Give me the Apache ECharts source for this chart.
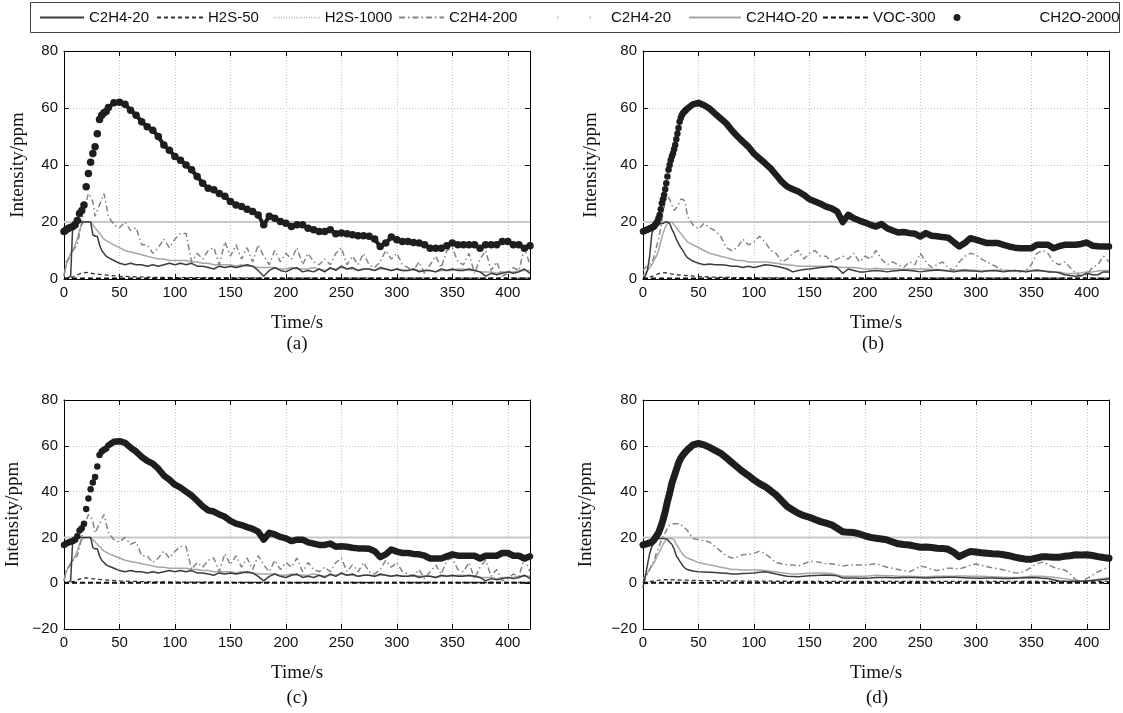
<!DOCTYPE html>
<html><head><meta charset="utf-8">
<script src="https://cdn.jsdelivr.net/npm/echarts@6/dist/echarts.min.js"></script>
<style>html,body{margin:0;padding:0;background:#fff}#c{width:1123px;height:713px}</style>
</head><body><div id="c"></div>
<script>
// ---------- time grids (s) ----------
const T_RISE2 = [0,2,4,6,8,10,12,14,16,18,20,22,24,26,28,30,32,34,36,38];
const T_RISE1 = [0,1,2,3,4,5,6,7,8,9,10,11,12,13,14,15,16,17,18,19,20,21,22,23,24,25,26,27,28,29,30,31,32,33,34,35,36,37,38,39];
const T_REST = [40,45,
  50,55,60,65,70,75,80,85,90,95,
  100,105,110,115,120,125,130,135,140,145,
  150,155,160,165,170,175,180,185,190,195,
  200,205,210,215,220,225,230,235,240,245,
  250,255,260,265,270,275,280,285,290,295,
  300,305,310,315,320,325,330,335,340,345,
  350,355,360,365,370,375,380,385,390,395,
  400,405,410,415,420];
const T_LINE = T_RISE2.concat(T_REST);
const T_H2S = [0,5,10,15,20,25,30,40,50,60,80,100,150,200,300,420];
const T_FLAT = [0,420];

// ---------- tick labels ----------
const X_TICKS = [0,50,100,150,200,250,300,350,400];

// ---------- flat series ----------
const H2S1000 = [20,20];
const VOC300 = [0.2,0.2];

// ---------- panel (a) / (c) ----------
const A_SOLID = [0,0,0.5,1,20,20,20,20,20,20, 20,20,20,15.5,15,15,12,10,9,8,
  7.5,6.5,
  5.5,5,5.5,5,5,4.5,5,4.5,5,5.5,
  5,5.5,5,5.5,4.5,4.5,4,3.5,4.5,4,
  4.5,4,4.5,5,4.5,3,1,3,4,3,
  2.5,3.5,4,2.5,3,2.5,3.5,2.5,4,3,
  4.5,3.5,4,3,3.5,3.5,3,4,3.5,3,
  3.5,3,3,3.5,2.5,3,3,2.5,3.5,3,
  3.5,3,3,3.5,3,2.5,1,2,1.5,2,
  2.5,2,2.5,3.5,2];
const A_LIGHT = [1,5,7,9,10,12,14,17,19,20, 20,20,20,19,18,17,16,15,14,13.5,
  13,12,
  11,10,9.5,9,8.5,8,7.5,7,7,6.5,
  6.5,6.5,6.5,6,6,5.5,5.5,5,5,5,
  5,4.5,5,4.5,4.5,4,4,4,4,3.5,
  3.5,4,3.5,3.5,3.5,4,3.5,3,3.5,3.5,
  4,3.5,3.5,3,3.5,3.5,3,3.5,3.5,3,
  3.5,3,3,3.5,3,3,3,2.5,3,3,
  3,3.5,3.5,3,3,2.5,2.5,2.5,2,2.5,
  2.5,2.5,3,3,3];
const A_DD = [1,6,7,8,10,11,12,16,20,25, 27,30,29,27,22,24,26,28,30,26,
  22,19,
  18,20,17,18,12,12,9,11,14,11,
  14,16,16,6,9,7,10,11,5,13,
  8,12,7,11,6,12,8,5,10,6,
  9,7,11,5,9,6,5,7,5,9,
  11,5,8,5,9,5,4,6,10,7,
  9,5,4,3,6,2,5,8,4,10,
  11,6,5,9,2,7,10,3,6,1,
  2,4,3,11,5];
const H2S_A = [0,0.3,1,2,2.3,2,1.7,1.3,1,0.8,0.6,0.5,0.4,0.3,0.3,0.3];
const CH_A_RISE = [16.7,17.3,17.8,18.1,18.4,19,20.5,23,24,26, 32.4,37,41,44,46.4,51,56,57.5,58.3,58.8];
const CH_A_REST = [60.2,61.8,
  62,61.3,59.2,57.5,55.2,53.4,52.2,50,47,45.2,
  43,41.7,40,38.3,36,33.6,31.8,31.3,30,29,
  27.2,26,25.4,24.5,23.7,22.5,19,22,21.3,20.2,
  19.6,18.4,19,19,17.8,17.3,16.7,16.7,17.3,15.9,
  16.1,15.9,15.5,15.2,15.2,15,14,11.4,12.6,14.7,
  13.8,13.2,13.2,12.8,12.6,12,10.8,10.8,10.8,11.7,
  12.6,12,12,12,12,10.8,12,12,12,13.2,
  13.2,12,12,10.8,11.7];

// ---------- panel (b) ----------
const B_SOLID = [0,1,3,8,16,18,18.5,19,19.5,19.5, 20,20,19.5,17.5,16,14,12.5,11,10,8.5,
  7.5,6.3,
  5.5,5,5.3,5,5,4.8,4.5,4.5,4,4.5,
  4,4.5,5,4.8,4.5,4,3.5,2.5,3,3.3,
  3.5,3.8,4,4.2,4.5,4,2,3.5,3,2.5,
  2.5,2.8,3,2.8,2.5,2.8,3,3.2,3,2.8,
  2.5,2.8,3,3.2,3,2.8,2.5,2.8,3,2.8,
  2.8,2.5,2.8,3,2.8,2.5,2.8,3,2.8,2.5,
  2.8,3,2.8,2.5,2.5,2.2,1.5,1.2,1,1.2,
  2,1.5,1.5,2.5,2.5];
const B_LIGHT = [1,2,3,4,5,6.5,8,10,13,16, 18,19.5,20,20,19,18,17,16,15,14,
  13,12,
  11,10,9,8.5,8,7.5,7,6.5,6.5,6,
  6,6,6,5.8,5.5,5.2,5,4.8,4.5,4.5,
  4.5,4.5,4.5,4.5,4.5,4.2,4,4,4,3.8,
  3.5,3.5,3.8,3.5,3.5,3.5,3.5,3.3,3.5,3.5,
  3.5,3.5,3.3,3.3,3.2,3,3,3.2,3.3,3.2,
  3,3,3,3,3.2,3,3,2.8,2.8,3,
  3,3.3,3,2.8,2.5,2.5,2,1.8,2,2.2,
  2.5,2.5,2.8,3,3];
const B_DD = [3,4,4.5,5,6,8,11,14,18,23, 27,29,28,26,24,25,26,28,28,27,
  22,19,
  17.5,19.5,18,17,15,11,10,11,14,12,
  13,15,13,10,9,6,7,9,10,7,
  9,10,8,8,6,7,8,7,9,6,
  8,7,10,7,5,6,5,4,6,5,
  9,6,4,5,6,4,3,6,8,9,
  8.5,7,6,5,4,3,3,3,2.5,3,
  5,9,10,9,6,5,6,4,2,1,
  1.5,4,5,8,6];
const H2S_B = [0,0.5,1.2,2,2.2,1.8,1.5,1.2,0.9,0.7,0.5,0.4,0.3,0.3,0.3,0.3];
const CH_B_RISE = [16.7,16.8,17,17.2,17.4,17.5,17.7,17.9,18.1,18.3,
  18.4,19,19.6,20.2,21.3,22.5,24.5,26.6,28,29.5,
  31.5,33.6,36,38.3,40,41.7,43,44,45.5,47,
  49,51,53,55.2,56.5,57.5,58.2,58.6,59,59.4];
const CH_B_REST = [59.8,61.3,
  61.8,61,59.8,58,56.3,54.6,52.2,50.1,48.2,46.4,
  44,42.3,40.6,38.8,36.5,34.2,32.4,31.5,30.7,29.5,
  28,27.2,26.4,25.4,24.8,23.7,20,22.5,21.3,20.5,
  19.8,19,18.4,19.3,17.8,17,16.3,16.5,16.1,15.9,
  14.9,16.1,15.2,15,14.7,14.5,13,11.4,12.6,14.3,
  13.8,13.2,12.6,12.6,12.6,12,11.4,11,10.8,10.8,
  10.8,12,12,12,10.8,11.5,12,12,12,12.3,
  12.8,11.7,11.5,11.4,11.4];

// ---------- panel (d) ----------
const D_SOLID = [-2,3,8,13,16,18,19,19.5,19.5,19.5, 19.5,19,18,17,15,12,10.5,9,7.5,6.5,
  6,5.3,
  5,4.9,4.8,4.7,4.5,4.3,4,4,4.2,4.3,
  4.5,4.8,5,4.6,4,3.5,3,2.9,2.8,3,
  3.2,3.4,3.5,3.6,3.5,3.2,2.3,2.3,2.3,2.2,
  2.2,2.3,2.5,2.5,2.5,2.4,2.4,2.5,2.5,2.5,
  2.4,2.3,2.4,2.5,2.5,2.6,2.6,2.5,2.4,2.3,
  2.2,2.2,2.3,2.3,2.2,2.1,2.1,2.2,2.3,2.4,
  2.5,2.4,2.2,2,1.5,1,0.8,0.7,0.7,0.8,
  1,1.2,1.4,1.6,1.8];
const D_LIGHT = [2,3,4.5,6,7.5,9,11,13,15,17, 18.5,19.5,19.5,19.5,19,17,15.5,14,12.5,11.5,
  11,10,
  9,8.5,8,7.5,7,6.5,6,6,5.8,5.8,
  5.8,5.8,5.5,5.2,5,4.6,4.2,4,4,4.2,
  4.3,4.4,4.5,4.4,4.2,3.6,3,3,3,3,
  3,3.2,3.5,3.4,3.3,3.2,3,3,3,2.9,
  2.8,2.8,2.9,3,3,3,3,3.1,3.1,3,
  3,3,2.9,2.8,2.7,2.6,2.5,2.5,2.6,2.8,
  3,3,3,2.8,2.6,2.3,2,1.5,1.2,1,
  1,1.3,1.7,2.1,2.5];
const D_DD = [0,2,4,6,8,10,13,15.5,18,20.5, 22,24,25.5,26,26,26,26,25.5,25,24,
  23,19.5,
  19,18.5,18,16,14,12,11,11.5,12.5,12.5,
  13,14,13,11,9,8.5,8,8,7.5,8.5,
  9.5,9.5,9,8.5,8.5,8,7.5,7.8,8,8,
  8,8.2,8.5,7.8,7,6.5,6,5.5,5,6,
  7.5,7,6,5.5,6,6.5,6.5,6.2,7,7.8,
  8.4,7.8,7.2,6.7,6.3,5.8,5.2,4.6,4.4,5.5,
  7,8.5,9.2,8.2,7,6.2,5.8,4,1.5,0.7,
  2,3.6,5,6,7.3];
const H2S_D = [0,0.6,1,1.3,1.5,1.5,1.4,1.3,1.2,1.1,1,0.9,0.8,0.8,0.8,0.8];
const CH_D = [16.7,17,17.3,17.6,18,19,20.5,22,24.5,27.6, 31.3,35.6,39.3,43.6,46.5,49.5,52.5,54.6,56,57.2,
  58.2,60.4,
  61,60.4,59.3,58,56.7,54.8,52.7,50.7,48.7,47,
  45.1,43.5,42.2,40.4,38.5,36,33.5,32,30.5,29.5,
  28.8,27.8,26.9,26.2,25.5,24,22.5,22.2,22.1,21.5,
  20.7,20,19.6,19.3,18.9,18,17.2,16.9,16.7,16.2,
  15.7,15.8,15.6,15.3,15.2,14.8,13.5,11.6,12.8,13.8,
  13.6,13.3,13.1,12.9,12.8,12.4,12,11.4,10.9,10.5,
  10.5,11,11.6,11.5,11.3,11.3,11.8,12,12.4,12.3,
  12.4,12.1,11.6,11.2,10.9];

// ---------- assembly ----------
function pairs(ts, vs){ return ts.map((t,i)=>[t, vs[i]]); }

const DATA = [
  {solid:A_SOLID, light:A_LIGHT, dd:A_DD, h2s:H2S_A, riseT:T_RISE2, rise:CH_A_RISE, rest:CH_A_REST, mode:'dots'},
  {solid:B_SOLID, light:B_LIGHT, dd:B_DD, h2s:H2S_B, riseT:T_RISE1, rise:CH_B_RISE, rest:CH_B_REST, mode:'line'},
  {solid:A_SOLID, light:A_LIGHT, dd:A_DD, h2s:H2S_A, riseT:T_RISE2, rise:CH_A_RISE, rest:CH_A_REST, mode:'line'},
  {solid:D_SOLID, light:D_LIGHT, dd:D_DD, h2s:H2S_D, all:CH_D, mode:'thick'}
];
const LAYOUT = [
  {left:64, top:51, width:466, height:228, ymin:0, yGap:36, xGap:35, label:'(a)', lx:297, ly:344},
  {left:643, top:51, width:466, height:228, ymin:0, yGap:42, xGap:35, label:'(b)', lx:873, ly:344},
  {left:64, top:400, width:466, height:229, ymin:-20, yGap:41, xGap:35, label:'(c)', lx:297, ly:698},
  {left:643, top:400, width:466, height:229, ymin:-20, yGap:47, xGap:35, label:'(d)', lx:877, ly:698}
];

const SANS = '"Liberation Sans", Arial, sans-serif';
const SERIF = '"Liberation Serif", "Times New Roman", serif';
const INK = '#111';
const CH_COLOR = '#1e1e1e';

const grids = [], xAxes = [], yAxes = [], series = [], graphics = [];

LAYOUT.forEach((L, i) => {
  grids.push({left:L.left, top:L.top, width:L.width, height:L.height, show:false, containLabel:false, outerBoundsMode:'none'});
  const tick = {show:true, inside:true, length:5, lineStyle:{color:'#000', width:1}};
  const line = {show:true, onZero:false, lineStyle:{color:'#000', width:1}};
  xAxes.push({type:'value', gridIndex:i, position:'bottom', min:0, max:420, interval:50,
    axisLine:line, axisTick:tick,
    axisLabel:{show:true, margin:6, fontSize:15, fontFamily:SANS, color:INK, showMaxLabel:false,
      formatter: v => X_TICKS.indexOf(v) >= 0 ? String(v) : ''},
    splitLine:{show:true, lineStyle:{color:'#c4c4c4', width:1, type:[1,2]}},
    name:'Time/s', nameLocation:'middle', nameGap:L.xGap,
    nameTextStyle:{fontFamily:SERIF, fontSize:19, color:INK}});
  xAxes.push({type:'value', gridIndex:i, position:'top', min:0, max:420, interval:50,
    axisLine:line, axisTick:tick, axisLabel:{show:false}, splitLine:{show:false}});
  yAxes.push({type:'value', gridIndex:i, position:'left', min:L.ymin, max:80, interval:20,
    axisLine:line, axisTick:tick,
    axisLabel:{show:true, margin:6, fontSize:15, fontFamily:SANS, color:INK,
      formatter: v => v < 0 ? '\u2212' + Math.abs(v) : String(v)},
    splitLine:{show:true, lineStyle:{color:'#c4c4c4', width:1, type:[1,2]}},
    name:'Intensity/ppm', nameLocation:'middle', nameGap:L.yGap, nameRotate:90,
    nameTextStyle:{fontFamily:SERIF, fontSize:19, color:INK}});
  yAxes.push({type:'value', gridIndex:i, position:'right', min:L.ymin, max:80, interval:20,
    axisLine:line, axisTick:tick, axisLabel:{show:false}, splitLine:{show:false}});

  const D = DATA[i];
  const ax = {xAxisIndex:2*i, yAxisIndex:2*i, silent:true, animation:false};
  const ln = (name, data, style, z) => Object.assign({type:'line', name, data, symbol:'none', showSymbol:false,
      lineStyle:style, itemStyle:{color:style.color}, z}, ax);
  const sc = (name, data, size) => Object.assign({type:'scatter', name, data, symbol:'circle', symbolSize:size,
      itemStyle:{color:CH_COLOR, opacity:1}, z:6}, ax);

  series.push(ln('H2S-1000', pairs(T_FLAT, H2S1000), {color:'#c8c8c8', width:2, type:'solid'}, 1));
  if (i === 0) series.push(ln('C2H4-20 ', [], {color:'#b4b4b4', width:1.5, type:[1.5,31]}, 1));
  series.push(ln('C2H4O-20', pairs(T_LINE, D.light), {color:'#a6a6a6', width:1.5, type:'solid'}, 2));
  series.push(ln('C2H4-200', pairs(T_LINE, D.dd), {color:'#848484', width:1.5, type:[6,3,1.5,3]}, 3));
  series.push(ln('C2H4-20', pairs(T_LINE, D.solid), {color:'#3c3c3c', width:1.5, type:'solid'}, 4));
  series.push(ln('H2S-50', pairs(T_H2S, D.h2s), {color:'#333333', width:1.3, type:[4,3]}, 4));
  series.push(ln('VOC-300', pairs(T_FLAT, VOC300), {color:'#111111', width:2, type:[5,3]}, 5));

  if (D.mode === 'thick') {
    series.push(ln('CH2O-2000', pairs(T_LINE, D.all), {color:CH_COLOR, width:7, type:'solid', cap:'round', join:'round'}, 6));
  } else if (D.mode === 'dots') {
    series.push(sc('CH2O-2000', pairs(D.riseT, D.rise), 7.5));
    series.push(sc('CH2O-2000', pairs(T_REST, D.rest), 7.5));
    series.push(ln('CH2O-2000', pairs(T_REST, D.rest), {color:CH_COLOR, width:4, type:'solid', cap:'round', join:'round'}, 6));
  } else {
    series.push(sc('CH2O-2000', pairs(D.riseT, D.rise), 6.5));
    series.push(ln('CH2O-2000', pairs(T_REST, D.rest), {color:CH_COLOR, width:6.5, type:'solid', cap:'round', join:'round'}, 6));
  }

  graphics.push({type:'text', silent:true, x:L.lx, y:L.ly,
    style:{text:L.label, font:'19px ' + SERIF, fill:INK, textAlign:'center', textVerticalAlign:'middle', align:'center', verticalAlign:'middle'}});
});

graphics.push({type:'rect', silent:true, shape:{x:30.5, y:2.5, width:1089, height:30},
  style:{fill:'rgba(0,0,0,0)', stroke:'#444', lineWidth:1}});

const LEG = [
  {name:'C2H4-20', left:39, w:44},
  {name:'H2S-50', left:156, w:46},
  {name:'H2S-1000', left:273, w:46, dotted:true},
  {name:'C2H4-200', left:398, w:45},
  {name:'C2H4-20 ', left:556, w:49},
  {name:'C2H4O-20', left:688, w:52},
  {name:'VOC-300', left:822, w:45},
  {name:'CH2O-2000', left:953.5, w:7, h:7, icon:'circle', pad:74}
];
const legends = LEG.map(l => {
  const o = {
    show:true, data:[l.icon ? {name:l.name, icon:l.icon} : {name:l.name}],
    left:l.left, top:10, orient:'horizontal', padding:0, itemGap:0,
    itemWidth:l.w, itemHeight:l.h || 14, selectedMode:false,
    textStyle:{fontSize:15, fontFamily:SANS, color:INK}
  };
  if (l.icon) {
    o.itemStyle = {color:CH_COLOR, opacity:1};
    o.textStyle.padding = [0,0,0,l.pad];
  } else {
    o.itemStyle = {color:'rgba(0,0,0,0)', borderColor:'rgba(0,0,0,0)', borderWidth:0, opacity:0};
  }
  if (l.dotted) o.lineStyle = {type:[1,1.5], width:1.5, color:'#b0b0b0'};
  return o;
});

const chart = echarts.init(document.getElementById('c'), null, {renderer:'canvas'});
chart.setOption({
  animation:false,
  backgroundColor:'#fff',
  grid:grids, xAxis:xAxes, yAxis:yAxes, series:series,
  legend:legends, graphic:graphics
});
</script></body></html>
